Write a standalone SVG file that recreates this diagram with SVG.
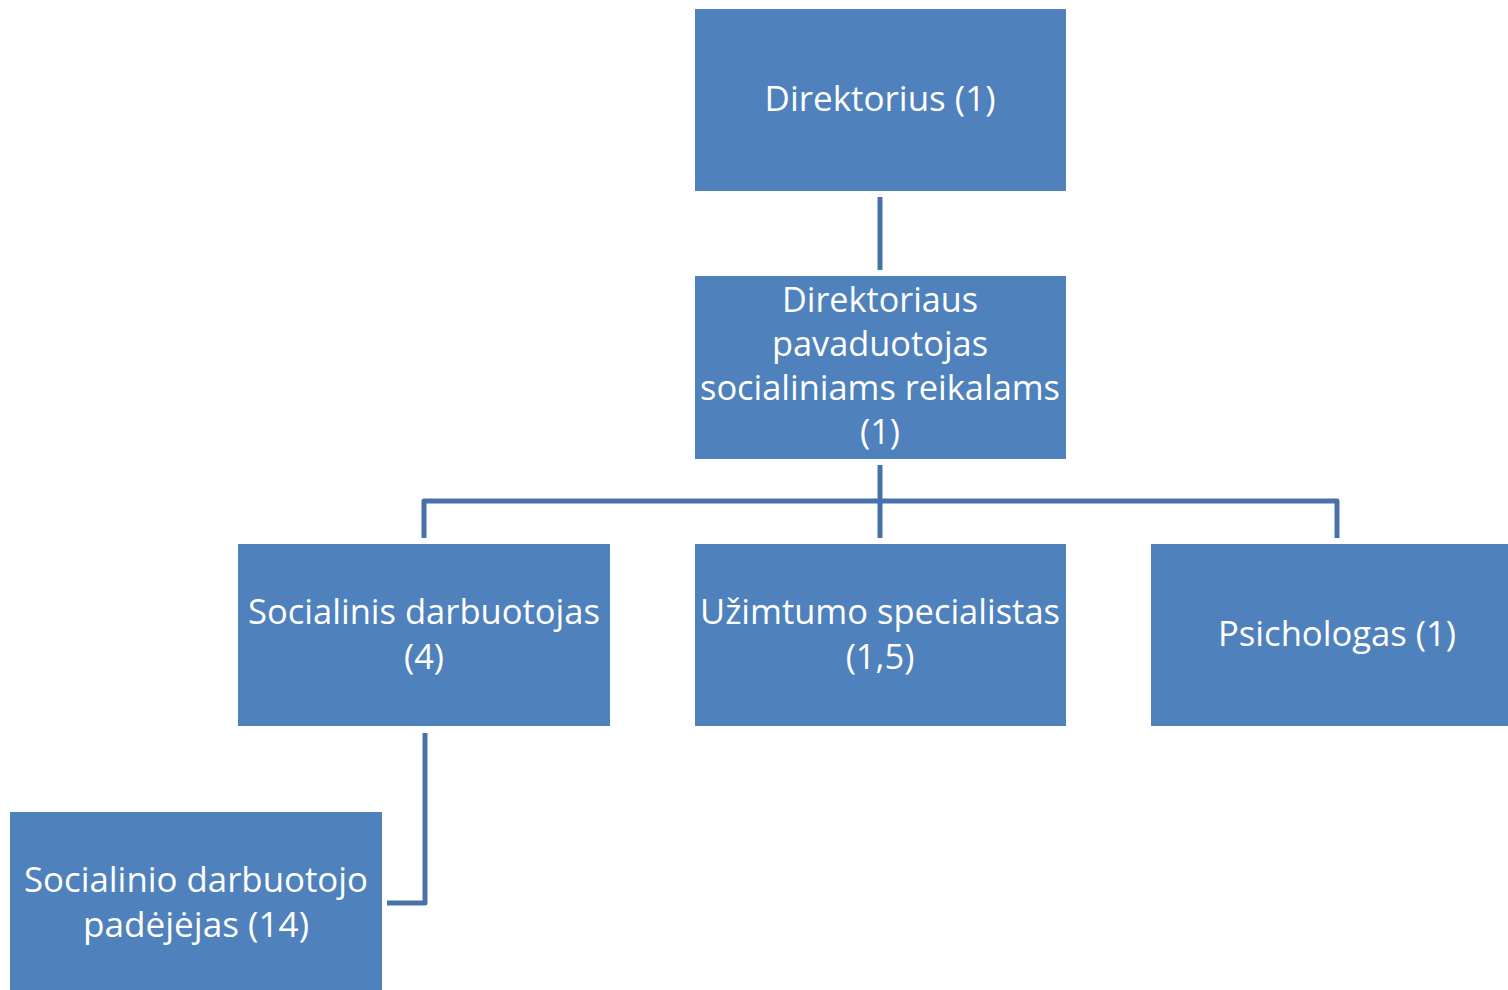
<svg xmlns="http://www.w3.org/2000/svg" width="1508" height="990" viewBox="0 0 1508 990">
<style>
.box{fill:#4F81BD;}
.t{font-family:"Open Sans","Liberation Sans",sans-serif;font-size:34.5px;fill:#FFFFFF;text-anchor:middle;}
.c{fill:none;stroke:#4672A8;stroke-width:5;stroke-linejoin:round;}
</style>
<rect width="1508" height="990" fill="#FFFFFF"/>
<g id="connectors">
<line class="c" x1="880" y1="197" x2="880" y2="270"/>
<polyline class="c" points="424,538 424,501 1337,501 1337,538"/>
<line class="c" x1="880" y1="465" x2="880" y2="538"/>
<polyline class="c" points="425,733 425,903 387,903"/>
</g>
<g id="n1"><rect class="box" x="695" y="9" width="371" height="182"/><text class="t" x="880" y="111" textLength="231" lengthAdjust="spacingAndGlyphs">Direktorius (1)</text></g>
<g id="n2"><rect class="box" x="695" y="276" width="371" height="183"/>
<text class="t" x="880" y="312" textLength="196" lengthAdjust="spacingAndGlyphs">Direktoriaus</text>
<text class="t" x="880" y="356" textLength="216" lengthAdjust="spacingAndGlyphs">pavaduotojas</text>
<text class="t" x="880" y="400" textLength="360" lengthAdjust="spacingAndGlyphs">socialiniams reikalams</text>
<text class="t" x="880" y="444">(1)</text></g>
<g id="n3"><rect class="box" x="238" y="544" width="372" height="182"/>
<text class="t" x="424" y="624" textLength="352" lengthAdjust="spacingAndGlyphs">Socialinis darbuotojas</text>
<text class="t" x="424" y="669">(4)</text></g>
<g id="n4"><rect class="box" x="695" y="544" width="371" height="182"/>
<text class="t" x="880" y="624" textLength="360" lengthAdjust="spacingAndGlyphs">Užimtumo specialistas</text>
<text class="t" x="880" y="669">(1,5)</text></g>
<g id="n5"><rect class="box" x="1151" y="544" width="371" height="182"/>
<text class="t" x="1337" y="646" textLength="238" lengthAdjust="spacingAndGlyphs">Psichologas (1)</text></g>
<g id="n6"><rect class="box" x="10" y="812" width="372" height="190"/>
<text class="t" x="196" y="892" textLength="344" lengthAdjust="spacingAndGlyphs">Socialinio darbuotojo</text>
<text class="t" x="196" y="937" textLength="226" lengthAdjust="spacingAndGlyphs">padėjėjas (14)</text></g>
</svg>
